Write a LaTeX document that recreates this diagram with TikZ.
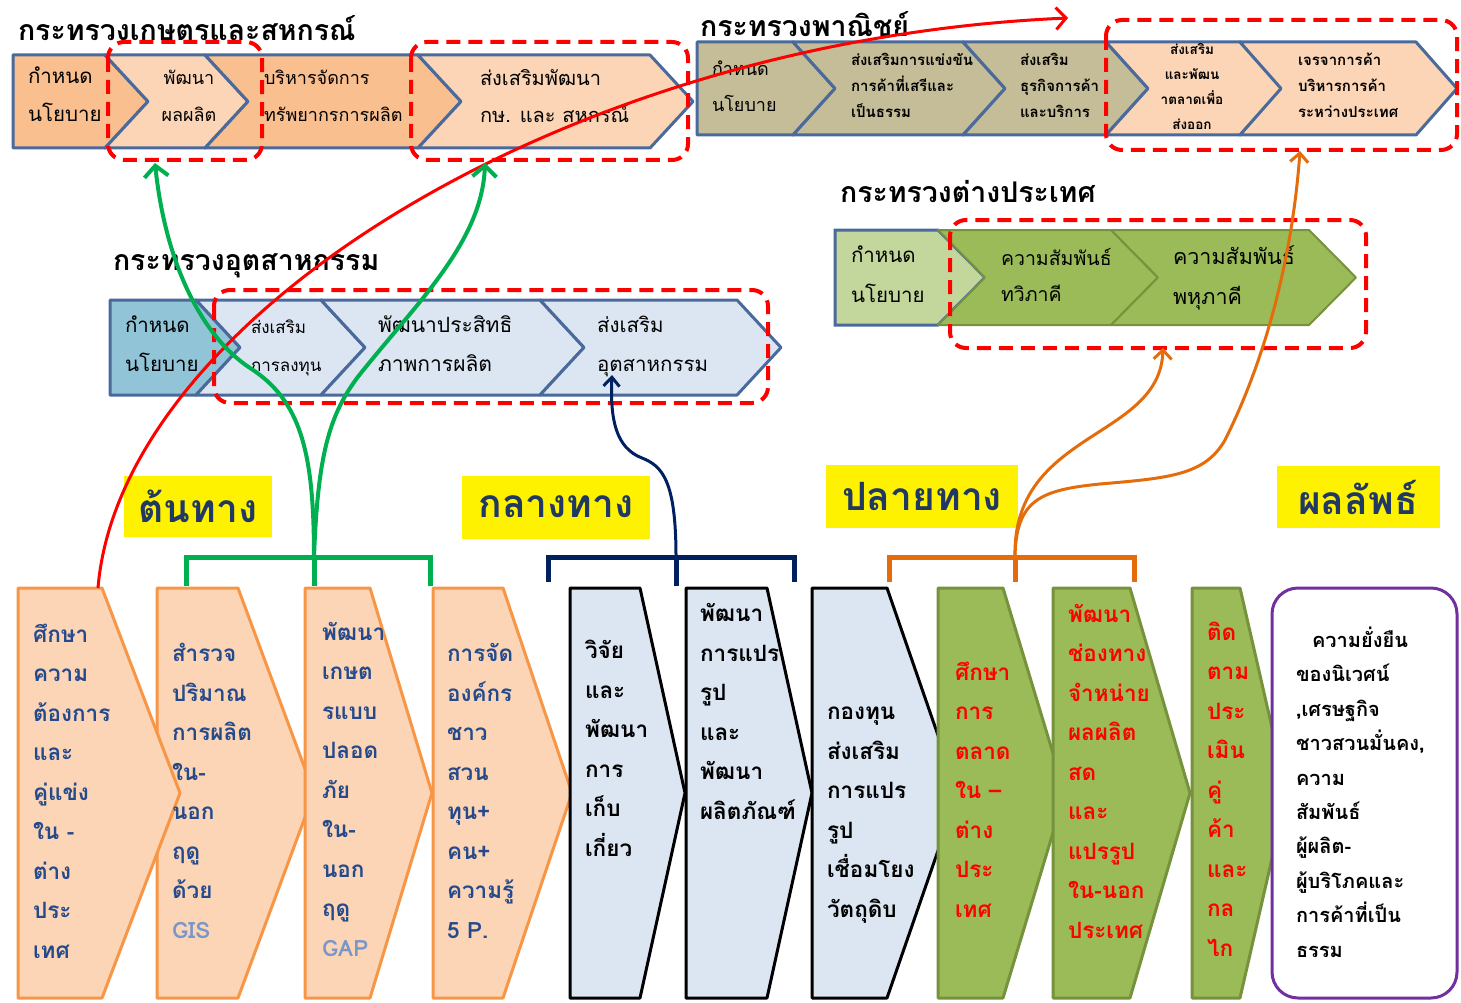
\documentclass[tikz,border=0pt]{standalone}
\usepackage{fontspec}
\newfontfamily\thai[Script=Thai]{Loma}
\usetikzlibrary{arrows.meta}
\definecolor{barblue}{HTML}{4A6A9C}
\definecolor{peachD}{HTML}{F9BF8F}
\definecolor{peachL}{HTML}{FBD5B5}
\definecolor{khaki}{HTML}{C4BD97}
\definecolor{indblue}{HTML}{92C4D8}
\definecolor{lblue}{HTML}{DCE6F2}
\definecolor{lgreen}{HTML}{C3D69B}
\definecolor{mgreen}{HTML}{9BBB59}
\definecolor{dgreen}{HTML}{76923C}
\definecolor{borange}{HTML}{F79646}
\definecolor{navyT}{HTML}{1F3864}
\definecolor{blueT}{HTML}{254A8C}
\definecolor{gisT}{HTML}{7A96C8}
\definecolor{gline}{HTML}{00B050}
\definecolor{nline}{HTML}{002060}
\definecolor{oline}{HTML}{E46C0A}
\definecolor{purp}{HTML}{7030A0}
\newcommand\homeshape[6]{\path[#1] (#2,#5) -- (#3,#5) -- (#4,{(#5+#6)/2}) -- (#3,#6) -- (#2,#6) -- cycle;}
\newcommand\chevshape[6]{\path[#1] (#2,#5) -- (#3,#5) -- (#4,{(#5+#6)/2}) -- (#3,#6) -- (#2,#6) -- ({#2+#4-#3},{(#5+#6)/2}) -- cycle;}
\begin{document}
\begin{tikzpicture}[x=1pt,y=-1pt,
  every node/.style={inner sep=0pt, outer sep=0pt},
  bar/.style={draw=barblue, line width=3pt, line join=round},
  fbar/.style={draw=dgreen, line width=2pt, line join=round, fill=mgreen},
  bot/.style={line width=3pt, line join=round},
  dbox/.style={draw=red, line width=4pt, dash pattern=on 14pt off 8pt, rounded corners=16pt},
  ttl/.style={font=\thai\bfseries\fontsize{28.5}{32}\selectfont, anchor=west},
  lab/.style={fill=yellow, text=navyT, font=\thai\bfseries\fontsize{39}{44}\selectfont},
  tt/.style={align=left, anchor=base west},
  bt/.style={align=left, anchor=base west, font=\thai\bfseries\fontsize{22.5}{39.5}\selectfont},
  redl/.style={draw=red, line width=3pt, -{Straight Barb[length=10pt,width=22pt,line width=3pt]}},
  grl/.style={draw=gline, line width=4pt, -{Straight Barb[length=11pt,width=24pt,line width=4pt]}},
  nvl/.style={draw=nline, line width=3pt, -{Straight Barb[length=9pt,width=16pt,line width=3pt]}},
  orl/.style={draw=oline, line width=3pt, -{Straight Barb[length=9pt,width=18pt,line width=3pt]}},
  brk/.style={line width=5pt}
]
\useasboundingbox (0,0) rectangle (1461,1003);
% ---------- Ministry of Agriculture ----------
\node[ttl] (tAg) at (18,28) {กระทรวงเกษตรและสหกรณ์};
\homeshape{bar,fill=peachD}{13}{105}{148}{55}{148}
\chevshape{bar,fill=peachL}{105}{205}{248}{55}{148}
\chevshape{bar,fill=peachD}{205}{418}{461}{55}{148}
\chevshape{bar,fill=peachL}{418}{650}{693}{55}{148}
\node[tt, font=\thai\fontsize{20.5}{38}\selectfont] (ag1) at (28,122) {กำหนด\\นโยบาย};
\node[align=center, anchor=base, font=\thai\fontsize{18}{37}\selectfont] (ag2) at (189,122) {พัฒนา\\ผลผลิต};
\node[tt, font=\thai\fontsize{18}{37}\selectfont] (ag3) at (264,122) {บริหารจัดการ\\ทรัพยากรการผลิต};
\node[tt, font=\thai\fontsize{20}{37}\selectfont] (ag4) at (480,123) {ส่งเสริมพัฒนา\\กษ. และ สหกรณ์};
\path[dbox] (108,42) rectangle (262,160);
\path[dbox] (411,42) rectangle (688,160);
% ---------- Ministry of Commerce ----------
\node[ttl] (tCo) at (700,24) {กระทรวงพาณิชย์};
\homeshape{bar,fill=khaki}{697}{793}{835}{42}{135}
\chevshape{bar,fill=khaki}{793}{963}{1005}{42}{135}
\chevshape{bar,fill=khaki}{963}{1106}{1148}{42}{135}
\chevshape{bar,fill=peachL}{1106}{1240}{1282}{42}{135}
\chevshape{bar,fill=peachL}{1240}{1416}{1457}{42}{135}
\node[tt, font=\thai\fontsize{18}{36}\selectfont] (co1) at (712,112) {กำหนด\\นโยบาย};
\node[tt, font=\thai\bfseries\fontsize{15}{26}\selectfont] (co2) at (851,118) {ส่งเสริมการแข่งขัน\\การค้าที่เสรีและ\\เป็นธรรม};
\node[tt, font=\thai\bfseries\fontsize{15}{26}\selectfont] (co3) at (1020,118) {ส่งเสริม\\ธุรกิจการค้า\\และบริการ};
\node[align=center, anchor=base, font=\thai\bfseries\fontsize{13.5}{25}\selectfont] (co4) at (1192,130) {ส่งเสริม\\และพัฒน\\าตลาดเพื่อ\\ส่งออก};
\node[tt, font=\thai\bfseries\fontsize{15}{26}\selectfont] (co5) at (1298,118) {เจรจาการค้า\\บริหารการค้า\\ระหว่างประเทศ};
\path[dbox] (1106,20) rectangle (1457,150);
% ---------- Ministry of Industry ----------
\node[ttl] (tIn) at (113,266) {กระทรวงอุตสาหกรรม};
\homeshape{bar,fill=indblue}{110}{196}{240}{300}{395}
\chevshape{bar,fill=lblue}{196}{321}{365}{300}{395}
\chevshape{bar,fill=lblue}{321}{540}{584}{300}{395}
\chevshape{bar,fill=lblue}{540}{737}{781}{300}{395}
\node[tt, font=\thai\fontsize{20.5}{39}\selectfont] (in1) at (125,371) {กำหนด\\นโยบาย};
\node[tt, font=\thai\fontsize{17}{38}\selectfont] (in2) at (251,371) {ส่งเสริม\\การลงทุน};
\node[tt, font=\thai\fontsize{21}{39}\selectfont] (in3) at (378,371) {พัฒนาประสิทธิ\\ภาพการผลิต};
\node[tt, font=\thai\fontsize{20.5}{39}\selectfont] (in4) at (597,371) {ส่งเสริม\\อุตสาหกรรม};
\path[dbox] (214,290) rectangle (768,403);
% ---------- Ministry of Foreign Affairs ----------
\node[ttl] (tFo) at (840,192) {กระทรวงต่างประเทศ};
\homeshape{draw=barblue, line width=3pt, fill=lgreen}{835}{938}{985}{230}{325}
\chevshape{fbar}{938}{1111}{1158}{230}{325}
\chevshape{fbar}{1111}{1309}{1356}{230}{325}
\node[tt, font=\thai\fontsize{20.5}{40}\selectfont] (fo1) at (851,302) {กำหนด\\นโยบาย};
\node[tt, font=\thai\fontsize{19.5}{36}\selectfont] (fo2) at (1001,301) {ความสัมพันธ์\\ทวิภาคี};
\node[tt, font=\thai\fontsize{21.5}{40}\selectfont] (fo3) at (1173,304) {ความสัมพันธ์\\พหุภาคี};
\path[dbox] (950,220) rectangle (1366,348);
% ---------- stage labels ----------
\node[lab, minimum width=148pt, minimum height=61pt] (lb1) at (198,506) {ต้นทาง};
\node[lab, minimum width=188pt, minimum height=63pt] (lb2) at (556,507) {กลางทาง};
\node[lab, minimum width=192pt, minimum height=63pt] (lb3) at (922,496) {ปลายทาง};
\node[lab, minimum width=163pt, minimum height=62pt] (lb4) at (1358,497) {ผลลัพธ์};
% ---------- bottom process ----------
\homeshape{bot,draw=borange,fill=peachL}{157}{238}{314}{588}{998}
\homeshape{bot,draw=borange,fill=peachL}{18}{102}{180}{588}{998}
\homeshape{bot,draw=borange,fill=peachL}{305}{370}{432}{588}{998}
\homeshape{bot,draw=borange,fill=peachL}{433}{503}{572}{588}{998}
\homeshape{bot,draw=black,fill=lblue}{570}{640}{685}{588}{998}
\homeshape{bot,draw=black,fill=lblue}{686}{767}{812}{588}{998}
\homeshape{bot,draw=black,fill=lblue}{812}{887}{958}{588}{998}
\homeshape{bot,draw=dgreen,fill=mgreen}{938}{1003}{1065}{588}{998}
\homeshape{bot,draw=dgreen,fill=mgreen}{1053}{1130}{1190}{588}{998}
\homeshape{bot,draw=dgreen,fill=mgreen}{1192}{1240}{1287}{588}{998}
\path[bot,draw=purp,fill=white,rounded corners=26pt] (1272,588) rectangle (1457,998);
\node[bt, text=blueT] (b1) at (33,958) {ศึกษา\\ความ\\ต้องการ\\และ\\คู่แข่ง\\ใน -\\ต่าง\\ประ\\เทศ};
\node[bt, text=blueT] (b2) at (172,938) {สำรวจ\\ปริมาณ\\การผลิต\\ใน-\\นอก\\ฤดู\\ด้วย\\\textcolor{gisT}{GIS}};
\node[bt, text=blueT] (b3) at (322,956) {พัฒนา\\เกษต\\รแบบ\\ปลอด\\ภัย\\ใน-\\นอก\\ฤดู\\\textcolor{gisT}{GAP}};
\node[bt, text=blueT] (b4) at (447,938) {การจัด\\องค์กร\\ชาว\\สวน\\ทุน+\\คน+\\ความรู้\\5 P.};
\node[bt, text=black] (b5) at (585,856) {วิจัย\\และ\\พัฒนา\\การ\\เก็บ\\เกี่ยว};
\node[bt, text=black] (b6) at (700,819) {พัฒนา\\การแปร\\รูป\\และ\\พัฒนา\\ผลิตภัณฑ์};
\node[bt, text=black] (b7) at (827,917) {กองทุน\\ส่งเสริม\\การแปร\\รูป\\เชื่อมโยง\\วัตถุดิบ};
\node[bt, text=red] (b8) at (955,917) {ศึกษา\\การ\\ตลาด\\ใน –\\ต่าง\\ประ\\เทศ};
\node[bt, text=red] (b9) at (1068,938) {พัฒนา\\ช่องทาง\\จำหน่าย\\ผลผลิต\\สด\\และ\\แปรรูป\\ใน-นอก\\ประเทศ};
\node[bt, text=red] (b10) at (1207,956) {ติด\\ตาม\\ประ\\เมิน\\คู่\\ค้า\\และ\\กล\\ไก};
\node[align=left, anchor=base west, font=\thai\bfseries\fontsize{20}{34.4}\selectfont] (res) at (1296,957) {\hspace*{16pt}ความยั่งยืน\\ของนิเวศน์\\,เศรษฐกิจ\\ชาวสวนมั่นคง,\\ความ\\สัมพันธ์\\ผู้ผลิต-\\ผู้บริโภคและ\\การค้าที่เป็น\\ธรรม};
% ---------- brackets ----------
\coordinate (gL) at (186,586); \coordinate (gM) at (314,586); \coordinate (gR) at (430,586); \coordinate (gS) at (314,557);
\coordinate (nL) at (548,582); \coordinate (nM) at (676,586); \coordinate (nR) at (794,582); \coordinate (nS) at (676,557);
\coordinate (oL) at (889,582); \coordinate (oM) at (1015,582); \coordinate (oR) at (1134,582); \coordinate (oS) at (1015,557);
\draw[brk, draw=gline] (gL) |- (gS) -| (gR); \draw[brk, draw=gline] (gS) -- (gM);
\draw[brk, draw=nline] (nL) |- (nS) -| (nR); \draw[brk, draw=nline] (nS) -- (nM);
\draw[brk, draw=oline] (oL) |- (oS) -| (oR); \draw[brk, draw=oline] (oS) -- (oM);
% ---------- connectors ----------
\coordinate (rS) at (98,588); \coordinate (rE) at (1068,18);
\coordinate (gA) at (155,163); \coordinate (gB) at (485,163);
\coordinate (nE) at (612,375);
\coordinate (oA) at (1163,348); \coordinate (oB) at (1300,151);
\draw[redl] (rS) .. controls (120,320) and (560,40) .. (rE);
\draw[grl] (gS) .. controls (314,450) and (300,400) .. (250,368) .. controls (200,335) and (165,260) .. (gA);
\draw[grl] (gS) .. controls (318,450) and (330,410) .. (365,368) .. controls (420,300) and (482,240) .. (gB);
\draw[nvl] (nS) .. controls (676,480) and (662,466) .. (642,458) .. controls (616,448) and (610,420) .. (nE);
\draw[orl] (oS) .. controls (1012,430) and (1160,440) .. (oA);
\draw[orl] (oS) .. controls (1016,500) and (1040,490) .. (1100,484) .. controls (1170,478) and (1205,475) .. (1225,440) .. controls (1265,360) and (1292,260) .. (oB);
\end{tikzpicture}
\end{document}
